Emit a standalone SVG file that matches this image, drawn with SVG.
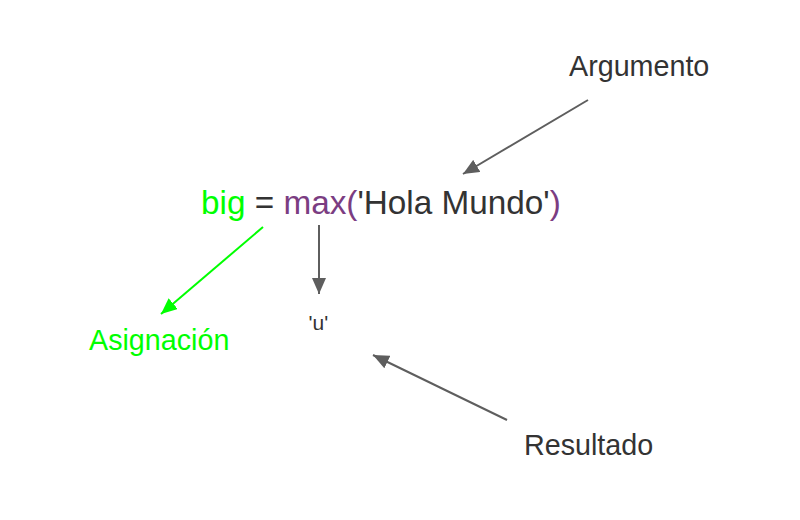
<svg xmlns="http://www.w3.org/2000/svg" width="800" height="520" viewBox="0 0 800 520">
<style>
text{font-family:"Liberation Sans",Arial,sans-serif;fill:#333333}
.lbl{font-size:28.7px}
.green{fill:#00ff00}
.purple{fill:#7b3d82}
.conn{stroke:#5e5e5e;stroke-width:2;fill:none}
.conn.g{stroke:#00ff00}
</style>
<defs>
<marker id="ah" viewBox="0 0 16 14" refX="16" refY="7" markerWidth="16" markerHeight="14" markerUnits="userSpaceOnUse" orient="auto"><path d="M0,0 L16,7 L0,14 z" fill="#5e5e5e"/></marker>
<marker id="ahg" viewBox="0 0 16 14" refX="16" refY="7" markerWidth="16" markerHeight="14" markerUnits="userSpaceOnUse" orient="auto"><path d="M0,0 L16,7 L0,14 z" fill="#00ff00"/></marker>
</defs>
<rect width="800" height="520" fill="#ffffff"/>
<g id="code"><text x="201" y="214" font-size="33.3"><tspan class="green">big</tspan> = <tspan class="purple">max(</tspan>'Hola Mundo'<tspan class="purple">)</tspan></text></g>
<g id="argumento"><text class="lbl" x="569" y="75.5">Argumento</text></g>
<g id="asignacion"><text class="lbl green" x="89" y="349.5">Asignación</text></g>
<g id="resultado-valor"><text x="308.5" y="329.5" font-size="21">'u'</text></g>
<g id="resultado"><text class="lbl" x="524" y="454.5">Resultado</text></g>
<g id="connectors">
<line class="conn g" x1="263" y1="227" x2="161" y2="314" marker-end="url(#ahg)"/>
<line class="conn" x1="319" y1="225" x2="319" y2="294" marker-end="url(#ah)"/>
<line class="conn" x1="588" y1="100" x2="463" y2="174" marker-end="url(#ah)"/>
<line class="conn" x1="507" y1="420" x2="373" y2="355" marker-end="url(#ah)"/>
</g>
</svg>
